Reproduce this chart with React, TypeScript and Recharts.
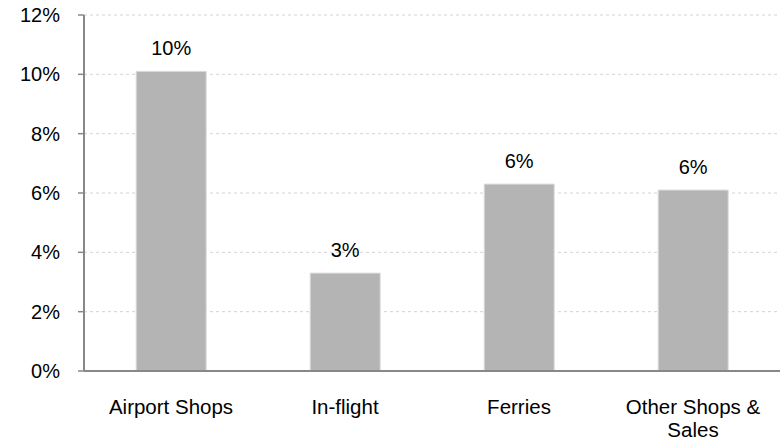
import React from "react";
import { BarChart, Bar, XAxis, YAxis, CartesianGrid, LabelList } from "recharts";

const categories = ["Airport Shops", "In-flight", "Ferries", "Other Shops & Sales"];
const shares = [10.1, 3.3, 6.3, 6.1];
const shareLabels = ["10%", "3%", "6%", "6%"];
const yTicks = [0, 2, 4, 6, 8, 10, 12];

const data = categories.map((name, i) => ({ name, value: shares[i], label: shareLabels[i] }));

const FONT = "'Liberation Sans', Arial, sans-serif";
const FS = 20;

function CategoryTick(props: any) {
  const { x, y, payload } = props;
  const text: string = payload.value;
  const lines = text === "Other Shops & Sales" ? ["Other Shops &", "Sales"] : [text];
  return (
    <g transform={`translate(${x},${y})`}>
      {lines.map((l, i) => (
        <text key={i} x={0} y={35 + i * 23} textAnchor="middle" fill="#000" fontSize={20.5} fontFamily={FONT}>
          {l}
        </text>
      ))}
    </g>
  );
}

export default function App() {
  return (
    <div style={{ position: "fixed", left: 0, top: 0, width: 780, height: 442, background: "#fff" }}>
      <BarChart
        width={780}
        height={442}
        data={data}
        margin={{ top: 15, right: 0, bottom: 0, left: 0 }}
        barCategoryGap="30%"
      >
        <CartesianGrid vertical={false} stroke="#d4d4d4" strokeDasharray="3 3" />
        <XAxis
          dataKey="name"
          height={71}
          tickLine={false}
          axisLine={{ stroke: "#888", strokeWidth: 2 }}
          tick={<CategoryTick />}
          interval={0}
        />
        <YAxis
          width={84}
          domain={[0, 12]}
          ticks={yTicks}
          tickFormatter={(v) => `${v}%`}
          tickSize={6}
          tickMargin={18}
          axisLine={{ stroke: "#888", strokeWidth: 2 }}
          tickLine={{ stroke: "#888", strokeWidth: 1.5 }}
          tick={{ fill: "#000", fontSize: FS, fontFamily: FONT }}
        />
        <Bar dataKey="value" fill="#b4b4b4" stroke="#dcdcdc" strokeWidth={1} isAnimationActive={false}>
          <LabelList dataKey="label" position="top" offset={16} fill="#000" fontSize={FS} fontFamily={FONT} />
        </Bar>
      </BarChart>
    </div>
  );
}
